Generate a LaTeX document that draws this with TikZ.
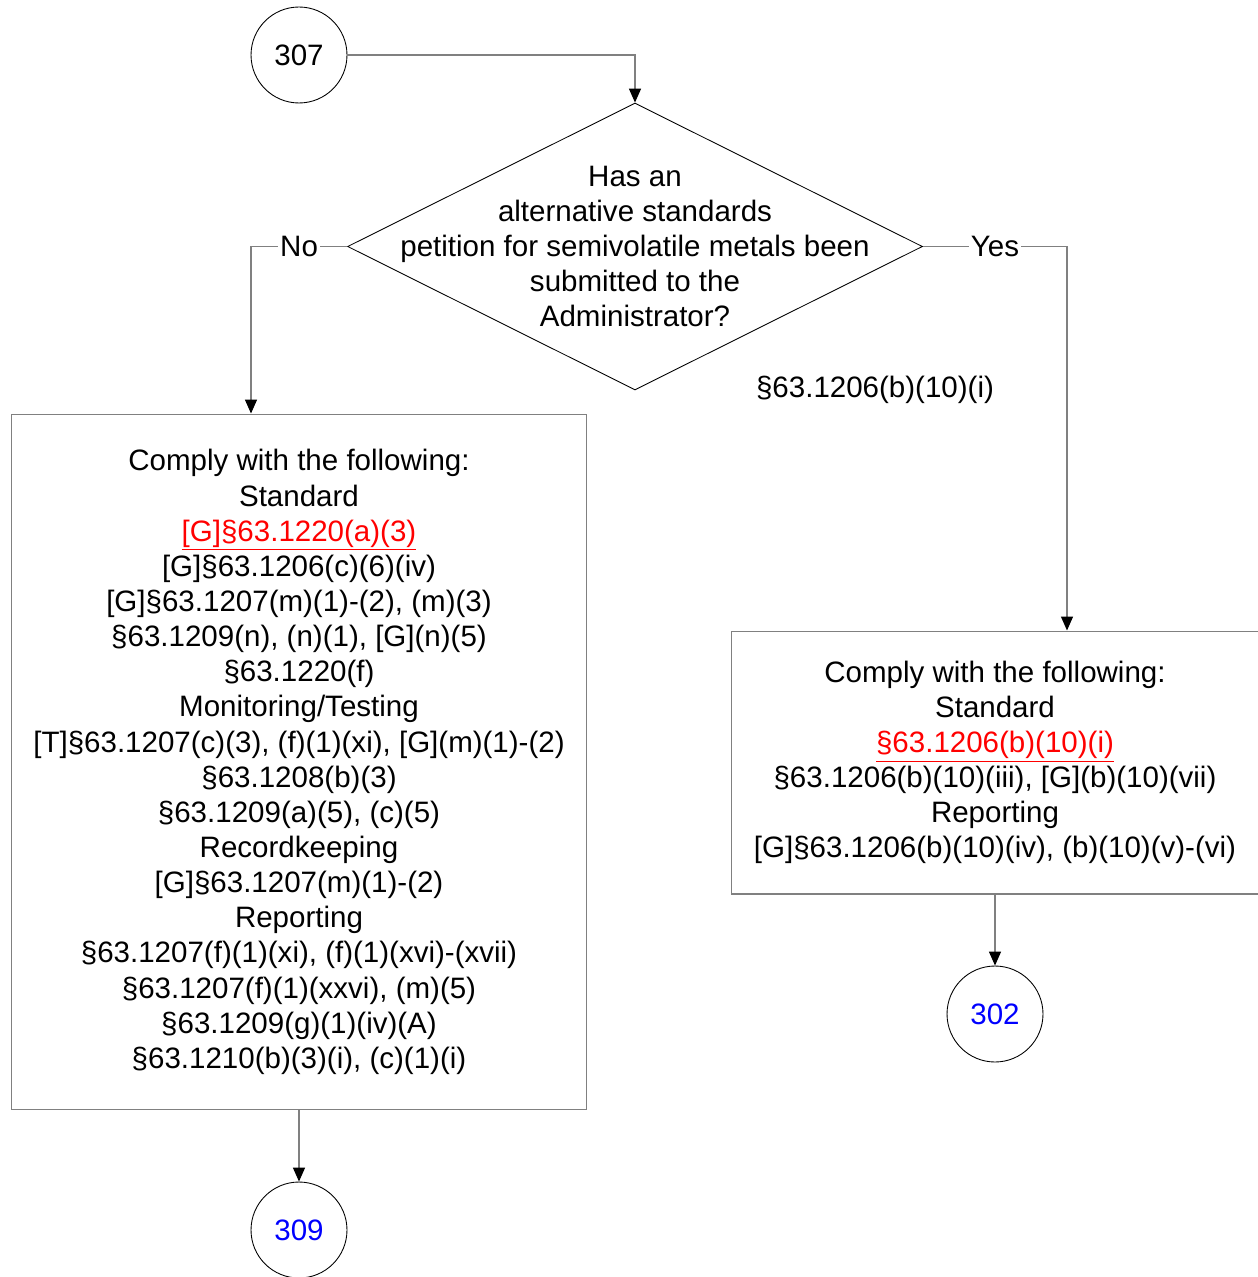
\documentclass[tikz,border=0pt]{standalone}
\usepackage{fontspec}
\setmainfont{Liberation Sans}
\usetikzlibrary{shapes.geometric,arrows.meta}
\definecolor{FCgray}{RGB}{128,128,128}
\definecolor{FCred}{RGB}{255,0,0}
\definecolor{FCblue}{RGB}{0,0,255}
\newcommand{\reflink}[1]{\textcolor{FCred}{\underline{#1}}}

\begin{document}
\begin{tikzpicture}[x=0.02cm, y=-0.02cm,
	every node/.style={font=\fontsize{16.8}{20}\selectfont},
	connnode/.style={draw, circle, line width=0.5pt, minimum size=1.92cm, inner sep=0},
	decnode/.style={draw, diamond, line width=0.5pt, minimum width=11.5cm, minimum height=5.74cm, inner sep=0},
	boxnode/.style={draw=FCgray, rectangle, line width=0.6pt, align=center, inner sep=0},
	flow/.style={draw=FCgray, line width=0.8pt, -{Triangle[length=0.28cm, width=0.24cm, color=black]}},
	branch/.style={fill=white, inner sep=1pt}
	]
	\useasboundingbox (0,0) rectangle (1257,1277);

	\node (c307) at (299,55) [connnode] {307};

	\node (dec) at (635,246.5) [decnode] {};
	\node (dectext) at (dec) [align=center] {Has an\\alternative standards\\petition for semivolatile metals been\\submitted to the\\Administrator?};

	\node (lbox) at (299,762) [boxnode, minimum width=11.52cm, minimum height=13.92cm]
		{Comply with the following:\\Standard\\\reflink{[G]§63.1220(a)(3)}\\{}[G]§63.1206(c)(6)(iv)\\{}[G]§63.1207(m)(1)-(2), (m)(3)\\§63.1209(n), (n)(1), [G](n)(5)\\§63.1220(f)\\Monitoring/Testing\\{}[T]§63.1207(c)(3), (f)(1)(xi), [G](m)(1)-(2)\\§63.1208(b)(3)\\§63.1209(a)(5), (c)(5)\\Recordkeeping\\{}[G]§63.1207(m)(1)-(2)\\Reporting\\§63.1207(f)(1)(xi), (f)(1)(xvi)-(xvii)\\§63.1207(f)(1)(xxvi), (m)(5)\\§63.1209(g)(1)(iv)(A)\\§63.1210(b)(3)(i), (c)(1)(i)};

	\node (rbox) at (995,762.5) [boxnode, minimum width=10.56cm, minimum height=5.26cm]
		{Comply with the following:\\Standard\\\reflink{§63.1206(b)(10)(i)}\\§63.1206(b)(10)(iii), [G](b)(10)(vii)\\Reporting\\{}[G]§63.1206(b)(10)(iv), (b)(10)(v)-(vi)};

	\node (cite) at (875,390) {§63.1206(b)(10)(i)};

	\node (c309) at (299,1230) [connnode, text=FCblue] {309};
	\node (c302) at (995,1014) [connnode, text=FCblue] {302};

	\coordinate (nobend) at (251,246.5);
	\coordinate (yesbend) at (1067,246.5);

	% connectors
	\draw [flow] (c307.east) -| (dec.north);
	\draw [flow] (dec.west) -- node [branch] {No} (nobend) -- (nobend |- lbox.north);
	\draw [flow] (dec.east) -- node [branch] {Yes} (yesbend) -- (yesbend |- rbox.north);
	\draw [flow] (lbox.south) -- (c309.north);
	\draw [flow] (rbox.south) -- (c302.north);
\end{tikzpicture}
\end{document}
